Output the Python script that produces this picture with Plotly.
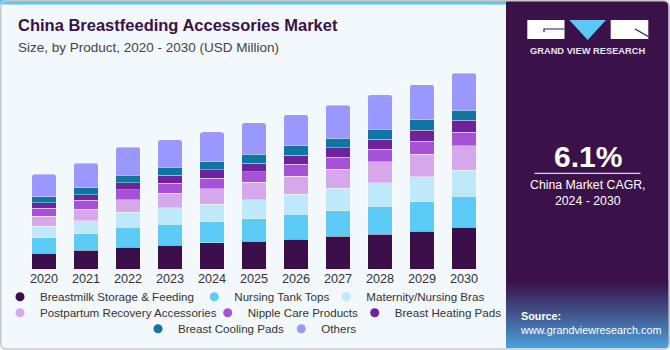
import plotly.graph_objects as go

years = ['2020', '2021', '2022', '2023', '2024', '2025', '2026', '2027', '2028', '2029', '2030']
series_names = ['Breastmilk Storage & Feeding', 'Nursing Tank Tops', 'Maternity/Nursing Bras',
                'Postpartum Recovery Accessories', 'Nipple Care Products', 'Breast Heating Pads',
                'Breast Cooling Pads', 'Others']
breastmilk = [27.2, 31.7, 37.4, 40.2, 44.8, 47.6, 51.0, 56.1, 59.5, 64.6, 70.8]
nursing_tops = [26.1, 28.3, 33.4, 35.7, 35.7, 38.0, 42.5, 43.1, 47.0, 49.9, 53.3]
maternity_bras = [19.3, 22.1, 26.1, 28.3, 29.5, 32.3, 33.4, 38.0, 40.2, 42.5, 43.6]
postpartum = [17.0, 19.3, 21.0, 24.4, 26.1, 29.5, 30.6, 32.3, 35.7, 38.0, 41.9]
nipple_care = [13.6, 15.3, 17.0, 17.0, 18.1, 18.1, 20.4, 20.4, 21.0, 22.1, 22.7]
heating_pads = [9.1, 9.6, 11.9, 13.6, 14.2, 14.7, 15.3, 16.4, 17.0, 18.7, 21.0]
cooling_pads = [10.2, 11.9, 13.0, 13.6, 14.2, 14.7, 16.4, 16.4, 17.0, 17.6, 17.0]
others = [38.5, 41.9, 47.6, 47.0, 50.4, 53.8, 52.7, 56.1, 58.9, 60.1, 62.9]
colors = ['#3a0f4a', '#5ccbf5', '#bfe9fa', '#d5a8ec', '#a652d6', '#6e229c', '#0e76a0', '#9a98fe']
annot_year = '2022'
annot_text = '$207.4M'
cagr_text = '6.1%'

series = [breastmilk, nursing_tops, maternity_bras, postpartum, nipple_care,
          heating_pads, cooling_pads, others]

W, H = 670, 350
L, R, T, B = 23, 185, 60, 81
PW, PH = W - L - R, H - T - B
YMAX = PH * 1.7

# legend layout: (marker centre x, row centre y) in pixels for each entry
legend_pos = [(18, 296.7), (212.3, 296.7), (344.3, 296.7),
              (18, 312.7), (225.7, 312.7), (372.7, 312.7),
              (156, 328.7), (299.3, 328.7)]


def px(x):
    return (x - L) / PW


def py(y):
    return (H - B - y) / PH


fig = go.Figure()
for name, vals, col in zip(series_names, series, colors):
    fig.add_trace(go.Bar(x=years, y=vals, name=name, marker_color=col,
                         marker_line=dict(width=0.6, color='rgba(255,255,255,0.6)'),
                         showlegend=False, hoverinfo='skip'))
legend_ids = ['legend'] + ['legend%d' % (i + 2) for i in range(len(series_names) - 1)]
for name, col, lg in zip(series_names, colors, legend_ids):
    fig.add_trace(go.Scatter(x=[None], y=[None], mode='markers', name=name,
                             marker=dict(color=col, size=9, symbol='circle'),
                             legend=lg, showlegend=True))

FONT = 'Liberation Sans, Arial, sans-serif'
shapes = []
# right panel
x0, x1, y0, y1, r = 506, 668.5, 0.5, 348, 6
panel_path = (f'M {px(x0)},{py(y0)} L {px(x1 - r)},{py(y0)} Q {px(x1)},{py(y0)} {px(x1)},{py(y0 + r)} '
              f'L {px(x1)},{py(y1)} L {px(x0)},{py(y1)} Z')
shapes.append(dict(type='path', xref='paper', yref='paper', path=panel_path,
                   fillcolor='#3a1249', line=dict(width=0), layer='below'))
# bottom gradient of panel
n = 34
c0 = (0x3a, 0x12, 0x49)
c1 = (0x4c, 0xa2, 0xdc)
ys0 = 280.0
ys1 = 348.0
for i in range(n):
    t = (i + 0.5) / n
    t2 = t ** 1.1
    c = tuple(int(c0[k] + (c1[k] - c0[k]) * t2) for k in range(3))
    ya = ys0 + (ys1 - ys0) * i / n
    yb = ys0 + (ys1 - ys0) * (i + 1) / n + 0.3
    shapes.append(dict(type='rect', xref='paper', yref='paper', x0=px(x0), x1=px(x1),
                       y0=py(ya), y1=py(min(yb, ys1)), fillcolor='rgb(%d,%d,%d)' % c,
                       line=dict(width=0), layer='below'))
# top strip
shapes.append(dict(type='rect', xref='paper', yref='paper', x0=px(0), x1=px(506), y0=py(0), y1=py(4.5),
                   fillcolor='#5ec3ee', line=dict(width=0), layer='below'))
# logo
shapes.append(dict(type='rect', xref='paper', yref='paper', x0=px(527.3), x1=px(564.5), y0=py(20), y1=py(39),
                   fillcolor='white', line=dict(width=0), layer='below'))
shapes.append(dict(type='path', xref='paper', yref='paper',
                   path=f'M {px(544)},{py(32.3)} L {px(544)},{py(29)} L {px(564.5)},{py(29)}',
                   line=dict(color='#3a1249', width=1.2), layer='below'))
shapes.append(dict(type='path', xref='paper', yref='paper',
                   path=f'M {px(569.3)},{py(20)} L {px(606)},{py(20)} L {px(587.7)},{py(40)} Z',
                   fillcolor='#5bc8f5', line=dict(width=0), layer='below'))
shapes.append(dict(type='rect', xref='paper', yref='paper', x0=px(610.7), x1=px(648.3), y0=py(20), y1=py(39),
                   fillcolor='white', line=dict(width=0), layer='below'))
shapes.append(dict(type='line', xref='paper', yref='paper', x0=px(635), x1=px(648.3), y0=py(29), y1=py(36.5),
                   line=dict(color='#3a1249', width=1.2), layer='below'))
# CAGR separator
shapes.append(dict(type='line', xref='paper', yref='paper', x0=px(534.5), x1=px(640.5), y0=py(173.3), y1=py(173.3),
                   line=dict(color='#d8d0e0', width=1.3), layer='above'))
# outer border
bx0, by0, bx1, by1, br = 0.75, 0.75, 669.25, 349.0, 6
border = (f'M {px(bx0 + br)},{py(by0)} L {px(bx1 - br)},{py(by0)} Q {px(bx1)},{py(by0)} {px(bx1)},{py(by0 + br)} '
          f'L {px(bx1)},{py(by1 - br)} Q {px(bx1)},{py(by1)} {px(bx1 - br)},{py(by1)} '
          f'L {px(bx0 + br)},{py(by1)} Q {px(bx0)},{py(by1)} {px(bx0)},{py(by1 - br)} '
          f'L {px(bx0)},{py(by0 + br)} Q {px(bx0)},{py(by0)} {px(bx0 + br)},{py(by0)} Z')
shapes.append(dict(type='path', xref='paper', yref='paper', path=border,
                   line=dict(color='#c8c8c8', width=1.5), layer='above'))

annotations = [
    dict(text='<b>China Breastfeeding Accessories Market</b>', x=px(16), y=py(25.5), xref='paper', yref='paper',
         xanchor='left', yanchor='middle', showarrow=False, font=dict(family=FONT, size=16.5, color='#3a1249')),
    dict(text='Size, by Product, 2020 - 2030 (USD Million)', x=px(16), y=py(47), xref='paper', yref='paper',
         xanchor='left', yanchor='middle', showarrow=False, font=dict(family=FONT, size=13.5, color='#444444')),
    dict(text=annot_text, x=annot_year, y=sum(s[years.index(annot_year)] for s in series), xref='x', yref='y',
         xanchor='center', yanchor='bottom', yshift=7, showarrow=False,
         font=dict(family=FONT, size=13.4, color='#333333')),
    dict(text='<b>GRAND VIEW RESEARCH</b>', x=px(587.5), y=py(51), xref='paper', yref='paper',
         xanchor='center', yanchor='middle', showarrow=False, font=dict(family=FONT, size=9.3, color='#e8e4ee')),
    dict(text='<b>' + cagr_text + '</b>', x=px(587.5), y=py(156), xref='paper', yref='paper',
         xanchor='center', yanchor='middle', showarrow=False, font=dict(family=FONT, size=30, color='white')),
    dict(text='China Market CAGR,<br>2024 - 2030', x=px(587.5), y=py(192.5), xref='paper', yref='paper',
         xanchor='center', yanchor='middle', showarrow=False, align='center',
         font=dict(family=FONT, size=12.3, color='white')),
    dict(text='<b>Source:</b><br>www.grandviewresearch.com', x=px(517.5), y=py(323.5), xref='paper', yref='paper',
         xanchor='left', yanchor='middle', showarrow=False, align='left',
         font=dict(family=FONT, size=10.8, color='white')),
]

legends = {}
for lg, (mx, my) in zip(legend_ids, legend_pos):
    legends[lg] = dict(orientation='h', xref='container', yref='container', xanchor='left', yanchor='middle',
                       x=max(0.0, (mx - 18) / W), y=1 - my / H, bgcolor='rgba(0,0,0,0)',
                       font=dict(family=FONT, size=11.6, color='#333333'), itemwidth=30, tracegroupgap=0)

fig.update_layout(
    width=W, height=H,
    margin=dict(l=L, r=R, t=T, b=B, pad=0, autoexpand=False),
    paper_bgcolor='#f3f8fc', plot_bgcolor='rgba(0,0,0,0)',
    barmode='stack', bargap=0.415, barcornerradius=3,
    xaxis=dict(type='category', range=[-0.5, 10.5], showgrid=False, zeroline=False, showline=False,
               ticks='', tickfont=dict(family=FONT, size=12.7, color='#333333'), fixedrange=True),
    yaxis=dict(range=[0, YMAX], visible=False, showgrid=False, zeroline=False, fixedrange=True),
    shapes=shapes,
    annotations=annotations,
    showlegend=True,
    **legends,
)
fig.write_html('out.html')
